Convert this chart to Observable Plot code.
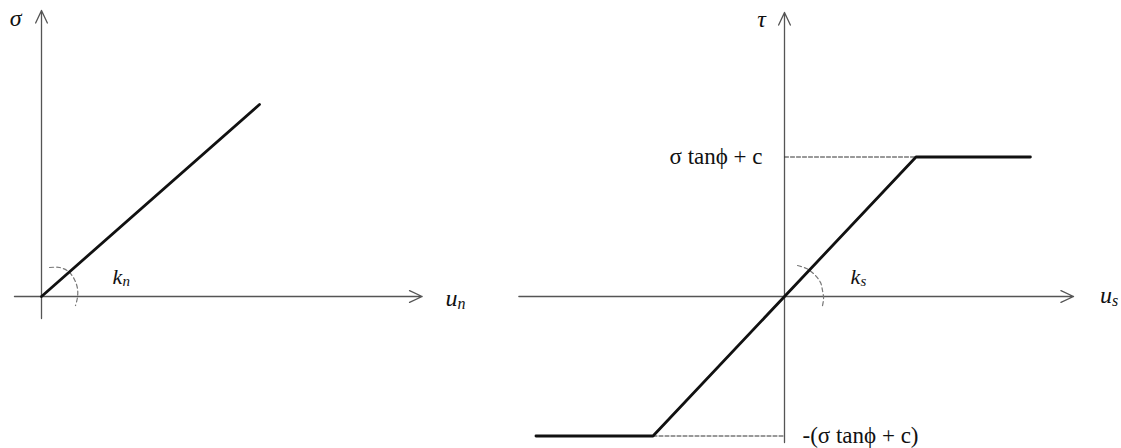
<!DOCTYPE html>
<html>
<head>
<meta charset="utf-8">
<script src="https://cdn.jsdelivr.net/npm/d3@7"></script>
<script src="https://cdn.jsdelivr.net/npm/@observablehq/plot@0.6"></script>
<style>
  html, body { margin: 0; padding: 0; background: #fff; }
  #wrap { width: 1121px; height: 448px; }
  #wrap svg { display: block; }
  svg text { font-family: "Liberation Serif", "Times New Roman", Tinos, serif !important; }
</style>
</head>
<body>
<div id="wrap"></div>
<script>
// ---- Data: normal behaviour (left) ----
const normalU = [0, 1];
const normalSigma = [0, 1];
const normalAxisX = [-0.124, 1.746];   // u_n axis extent
const normalAxisY = [-0.115, 1.49];    // sigma axis extent
const normalArcX = [0.037, 0.083, 0.124, 0.151, 0.165, 0.165, 0.156];
const normalArcY = [0.151, 0.151, 0.130, 0.089, 0.042, -0.005, -0.047];

// ---- Data: shear behaviour (right) ----
const shearU = [-1.89, -1, 1, 1.87];
const shearTau = [-1, -1, 1, 1];
const shearAxisX = [-2.02, 2.198];     // u_s axis extent
const shearAxisY = [-1.047, 2.036];    // tau axis extent
const shearLimit = 1;                  // σ tanϕ + c
const shearArcX = [0.099, 0.167, 0.228, 0.274, 0.289, 0.297, 0.289];
const shearArcY = [0.222, 0.201, 0.158, 0.100, 0.043, -0.014, -0.065];

// ---- Labels ----
const labelSigma = "σ";
const labelTau = "τ";
const labelLimit = "σ tanϕ + c";
const labelNegLimit = "-(σ tanϕ + c)";

const serif = "Liberation Serif";
const axisColor = "#555";
const lineColor = "#111";

function zip(xs, ys) { return xs.map((x, i) => ({x, y: ys[i]})); }

function sub(main, subText, x, y, size, dxSub) {
  return [
    Plot.text([{x, y}], {x: "x", y: "y", text: () => main, textAnchor: "start",
      fontSize: size, fontStyle: "italic", fontFamily: serif, fill: "#111"}),
    Plot.text([{x, y}], {x: "x", y: "y", text: () => subText, textAnchor: "start",
      dx: dxSub, dy: 5, fontSize: Math.round(size * 0.68), fontStyle: "italic", fontFamily: serif, fill: "#111"})
  ];
}

// ---- Left diagram (whole canvas) ----
const chart = Plot.plot({
  width: 1121, height: 448,
  margin: 0,
  x: {type: "linear", domain: [0, 1], range: [41, 259], axis: null},
  y: {type: "linear", domain: [0, 1], range: [296, 104], axis: null},
  marks: [
    Plot.arrow([{x1: normalAxisX[0], y1: 0, x2: normalAxisX[1], y2: 0}],
      {x1: "x1", y1: "y1", x2: "x2", y2: "y2", stroke: axisColor, strokeWidth: 1.3, headLength: 16, headAngle: 50}),
    Plot.arrow([{x1: 0, y1: normalAxisY[0], x2: 0, y2: normalAxisY[1]}],
      {x1: "x1", y1: "y1", x2: "x2", y2: "y2", stroke: axisColor, strokeWidth: 1.3, headLength: 16, headAngle: 50}),
    Plot.line(zip(normalArcX, normalArcY), {x: "x", y: "y", curve: "catmull-rom",
      stroke: "#777", strokeWidth: 1.2, strokeDasharray: "4,3"}),
    Plot.line(zip(normalU, normalSigma), {x: "x", y: "y", stroke: lineColor, strokeWidth: 2.8}),
    Plot.text([{x: -0.119, y: 1.448}], {x: "x", y: "y", text: () => labelSigma,
      fontSize: 24, fontStyle: "italic", fontFamily: serif, fill: "#111"}),
    ...sub("k", "n", 0.326, 0.104, 22, 10),
    ...sub("u", "n", 1.853, -0.01, 24, 12)
  ]
});

// ---- Right diagram (own scales, merged into the same SVG) ----
const right = Plot.plot({
  width: 641, height: 448,
  margin: 0,
  x: {type: "linear", domain: [0, 1], range: [304, 435.5], axis: null},
  y: {type: "linear", domain: [0, 1], range: [296, 156.5], axis: null},
  marks: [
    Plot.arrow([{x1: shearAxisX[0], y1: 0, x2: shearAxisX[1], y2: 0}],
      {x1: "x1", y1: "y1", x2: "x2", y2: "y2", stroke: axisColor, strokeWidth: 1.3, headLength: 16, headAngle: 50}),
    Plot.arrow([{x1: 0, y1: shearAxisY[0], x2: 0, y2: shearAxisY[1]}],
      {x1: "x1", y1: "y1", x2: "x2", y2: "y2", stroke: axisColor, strokeWidth: 1.3, headLength: 16, headAngle: 50}),
    Plot.line([{x: 0, y: shearLimit}, {x: shearU[2], y: shearLimit}], {x: "x", y: "y",
      stroke: "#333", strokeWidth: 1, strokeDasharray: "4,2"}),
    Plot.line([{x: shearU[1], y: -shearLimit}, {x: 0, y: -shearLimit}], {x: "x", y: "y",
      stroke: "#333", strokeWidth: 1, strokeDasharray: "4,2"}),
    Plot.line(zip(shearArcX, shearArcY), {x: "x", y: "y", curve: "catmull-rom",
      stroke: "#777", strokeWidth: 1.2, strokeDasharray: "4,3"}),
    Plot.line(zip(shearU, shearTau), {x: "x", y: "y", stroke: lineColor, strokeWidth: 2.8}),
    Plot.text([{x: -0.175, y: 1.986}], {x: "x", y: "y", text: () => labelTau,
      fontSize: 24, fontStyle: "italic", fontFamily: serif, fill: "#111"}),
    Plot.text([{x: -0.167, y: shearLimit}], {x: "x", y: "y", text: () => labelLimit, textAnchor: "end",
      fontSize: 23, fontFamily: serif, fill: "#111"}),
    Plot.text([{x: 0.137, y: -shearLimit}], {x: "x", y: "y", text: () => labelNegLimit, textAnchor: "start",
      fontSize: 23, fontFamily: serif, fill: "#111"}),
    ...sub("k", "s", 0.502, 0.143, 22, 10),
    ...sub("u", "s", 2.40, 0.007, 24, 12)
  ]
});

const g = document.createElementNS("http://www.w3.org/2000/svg", "g");
g.setAttribute("transform", "translate(480,0)");
for (const child of Array.from(right.childNodes)) {
  if (child.nodeName.toLowerCase() !== "style") g.appendChild(child);
}
chart.appendChild(g);

// serif font, set inside the SVG itself as well
const st = document.createElementNS("http://www.w3.org/2000/svg", "style");
st.textContent = 'text { font-family: "Liberation Serif", "Times New Roman", Tinos, serif !important; }';
chart.insertBefore(st, chart.firstChild);
chart.setAttribute("font-family", "Liberation Serif, Times New Roman, serif");
d3.select(chart).selectAll("text").attr("font-family", "Liberation Serif, Times New Roman, serif");

document.getElementById("wrap").append(chart);
</script>
</body>
</html>
